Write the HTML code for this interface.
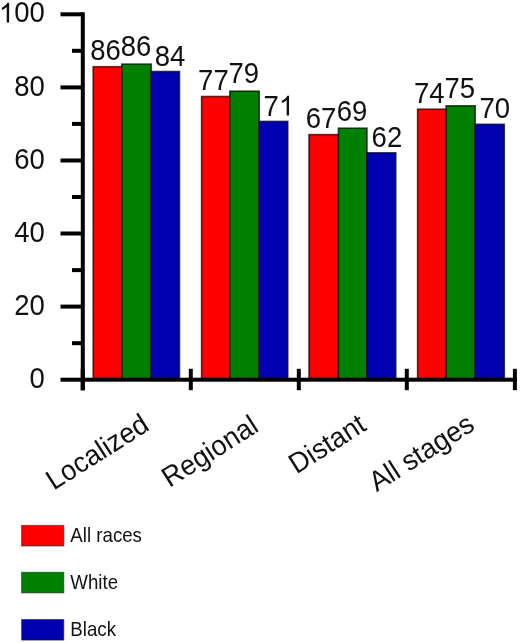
<!DOCTYPE html>
<html><head><meta charset="utf-8"><style>
html,body{margin:0;padding:0;background:#fff;}
svg{display:block;will-change:transform;}
text{font-family:"Liberation Sans",sans-serif;fill:#111;}
</style></head><body>
<svg width="520" height="643" viewBox="0 0 520 643">
<rect x="93.2" y="66.7" width="28.6" height="313.4" fill="#ff0000" stroke="#000" stroke-opacity="0.7" stroke-width="1.6"/>
<rect x="121.8" y="64.1" width="29.4" height="315.9" fill="#008000" stroke="#000" stroke-opacity="0.7" stroke-width="1.6"/>
<rect x="151.2" y="71.5" width="28.3" height="308.5" fill="#0000b0" stroke="#000" stroke-opacity="0.7" stroke-width="1.6"/>
<rect x="201.6" y="96.5" width="28.2" height="283.5" fill="#ff0000" stroke="#000" stroke-opacity="0.7" stroke-width="1.6"/>
<rect x="229.8" y="91.2" width="29.4" height="288.8" fill="#008000" stroke="#000" stroke-opacity="0.7" stroke-width="1.6"/>
<rect x="259.2" y="121.4" width="28.6" height="258.6" fill="#0000b0" stroke="#000" stroke-opacity="0.7" stroke-width="1.6"/>
<rect x="309.0" y="134.6" width="29.4" height="245.4" fill="#ff0000" stroke="#000" stroke-opacity="0.7" stroke-width="1.6"/>
<rect x="338.4" y="128.2" width="28.6" height="251.8" fill="#008000" stroke="#000" stroke-opacity="0.7" stroke-width="1.6"/>
<rect x="367.0" y="152.8" width="28.8" height="227.2" fill="#0000b0" stroke="#000" stroke-opacity="0.7" stroke-width="1.6"/>
<rect x="417.6" y="109.2" width="28.5" height="270.8" fill="#ff0000" stroke="#000" stroke-opacity="0.7" stroke-width="1.6"/>
<rect x="446.1" y="105.8" width="29.1" height="274.2" fill="#008000" stroke="#000" stroke-opacity="0.7" stroke-width="1.6"/>
<rect x="475.2" y="124.3" width="29.1" height="255.7" fill="#0000b0" stroke="#000" stroke-opacity="0.7" stroke-width="1.6"/>
<text transform="translate(90.16 59.76) scale(1 1.0412)" font-size="27.5">86</text>
<text transform="translate(120.81 55.76) scale(1 1.0412)" font-size="27.5">86</text>
<text transform="translate(154.71 65.86) scale(1 1.0412)" font-size="27.5">84</text>
<text transform="translate(198.09 89.85) scale(1 1.0412)" font-size="27.5">77</text>
<text transform="translate(228.55 83.26) scale(1 1.0412)" font-size="27.5">79</text>
<text transform="translate(263.53 115.55) scale(1 1.0412)" font-size="27.5">7</text>
<path transform="translate(278.82 115.55) scale(0.01343 -0.01343)" d="M763 0L583 0L583 1147Q518 1085 412 1023Q306 961 223 930L223 1104Q373 1174 484 1274Q595 1374 641 1466L763 1466Z" fill="#111"/>
<text transform="translate(305.80 127.96) scale(1 1.0412)" font-size="27.5">67</text>
<text transform="translate(336.76 120.66) scale(1 1.0412)" font-size="27.5">69</text>
<text transform="translate(371.60 146.86) scale(1 1.0412)" font-size="27.5">62</text>
<text transform="translate(414.00 103.15) scale(1 1.0412)" font-size="27.5">74</text>
<text transform="translate(444.58 97.61) scale(1 1.0412)" font-size="27.5">75</text>
<text transform="translate(479.54 118.16) scale(1 1.0412)" font-size="27.5">70</text>
<rect x="80.8" y="12.3" width="4" height="378" fill="#000"/>
<rect x="80.8" y="377.7" width="436" height="4" fill="#000"/>
<rect x="60.5" y="377.7" width="22" height="4" fill="#000"/>
<text transform="translate(29.48 387.86) scale(1 1.0412)" font-size="27.5">0</text>
<rect x="72" y="341.2" width="10" height="4" fill="#000"/>
<rect x="60.5" y="304.6" width="22" height="4" fill="#000"/>
<text transform="translate(14.19 314.78) scale(1 1.0412)" font-size="27.5">20</text>
<rect x="72" y="268.1" width="10" height="4" fill="#000"/>
<rect x="60.5" y="231.5" width="22" height="4" fill="#000"/>
<text transform="translate(14.19 241.70) scale(1 1.0412)" font-size="27.5">40</text>
<rect x="72" y="195.0" width="10" height="4" fill="#000"/>
<rect x="60.5" y="158.5" width="22" height="4" fill="#000"/>
<text transform="translate(14.19 168.62) scale(1 1.0412)" font-size="27.5">60</text>
<rect x="72" y="121.9" width="10" height="4" fill="#000"/>
<rect x="60.5" y="85.4" width="22" height="4" fill="#000"/>
<text transform="translate(14.19 95.54) scale(1 1.0412)" font-size="27.5">80</text>
<rect x="72" y="48.8" width="10" height="4" fill="#000"/>
<rect x="60.5" y="12.3" width="22" height="4" fill="#000"/>
<path transform="translate(-1.11 22.46) scale(0.01343 -0.01343)" d="M763 0L583 0L583 1147Q518 1085 412 1023Q306 961 223 930L223 1104Q373 1174 484 1274Q595 1374 641 1466L763 1466Z" fill="#111"/>
<text transform="translate(14.19 22.46) scale(1 1.0412)" font-size="27.5">00</text>
<rect x="80.7" y="368.8" width="4" height="21.4" fill="#000"/>
<rect x="188.8" y="368.8" width="4" height="21.4" fill="#000"/>
<rect x="296.8" y="368.8" width="4" height="21.4" fill="#000"/>
<rect x="404.8" y="368.8" width="4" height="21.4" fill="#000"/>
<rect x="512.9" y="368.8" width="4" height="21.4" fill="#000"/>
<text font-size="27.2" text-anchor="end" transform="rotate(-32.5 150.7 429.15) translate(150.7 429.15) scale(1 1.0412)">Localized</text>
<text font-size="27.2" text-anchor="end" transform="rotate(-32.5 260.0 430.3) translate(260.0 430.3) scale(1 1.0412)">Regional</text>
<text font-size="27.2" text-anchor="end" transform="rotate(-32.5 367.9 429.15) translate(367.9 429.15) scale(1 1.0412)">Distant</text>
<text font-size="27.2" text-anchor="end" transform="rotate(-32.5 476.2 428.9) translate(476.2 428.9) scale(1 1.0412)">All stages</text>
<rect x="21.6" y="525.4" width="42.2" height="20.6" fill="#ff0000" stroke="#222" stroke-opacity="0.6" stroke-width="1"/>
<text transform="translate(70.30 541.86) scale(1 1.0412)" font-size="18.7">All races</text>
<rect x="21.6" y="572.3" width="42.2" height="20.6" fill="#008000" stroke="#222" stroke-opacity="0.6" stroke-width="1"/>
<text transform="translate(70.30 588.86) scale(1 1.0412)" font-size="18.7">White</text>
<rect x="21.6" y="619.5" width="42.2" height="20.6" fill="#0000b0" stroke="#222" stroke-opacity="0.6" stroke-width="1"/>
<text transform="translate(70.30 635.76) scale(1 1.0412)" font-size="18.7">Black</text>
</svg>
</body></html>
